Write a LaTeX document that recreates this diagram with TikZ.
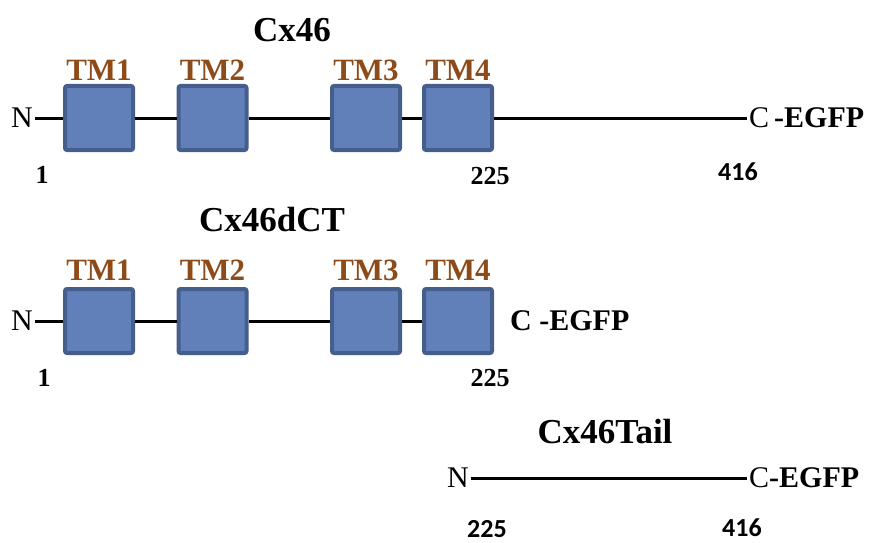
\documentclass[tikz,border=0pt]{standalone}
\usepackage{fontspec}
\setmainfont{Liberation Serif}
\newfontfamily\numsans{Carlito}
\definecolor{boxfill}{RGB}{97,128,186}
\definecolor{boxline}{RGB}{70,94,140}
\definecolor{tmbrown}{RGB}{140,75,25}
\begin{document}
\begin{tikzpicture}[x=1pt,y=-1pt,
  tmbox/.style={draw=boxline,fill=boxfill,line width=4pt,rounded corners=2pt,minimum width=68pt,minimum height=64pt,inner sep=0pt},
  tmlabel/.style={text=tmbrown,font=\fontsize{31}{31}\selectfont\bfseries,inner sep=0pt},
  title/.style={font=\fontsize{35}{35}\selectfont\bfseries,inner sep=0pt},
  term/.style={font=\fontsize{30}{30}\selectfont,inner sep=2pt},
  numser/.style={font=\fontsize{26}{26}\selectfont\bfseries,inner sep=0pt},
  numsan/.style={font=\fontsize{26}{26}\selectfont\numsans\bfseries,inner sep=0pt},
  chain/.style={line width=3pt}]
\useasboundingbox (0,0) rectangle (873,543);
% Row 1: Cx46
\node[title] (t1) at (292,30) {Cx46};
\node[tmbox] (a1) at (99,118) {};
\node[tmbox] (a2) at (212.5,118) {};
\node[tmbox] (a3) at (366,118) {};
\node[tmbox] (a4) at (458,118) {};
\node[tmlabel] (la1) at (99,70) {TM1};
\node[tmlabel] (la2) at (212.5,70) {TM2};
\node[tmlabel] (la3) at (366,70) {TM3};
\node[tmlabel] (la4) at (458,70) {TM4};
\node[term] (n1) at (22,118) {N};
\node[term,anchor=west] (c1) at (747,118) {C\,\textbf{-EGFP}};
\draw[chain] (n1.east) -- (a1.west);
\draw[chain] (a1.east) -- (a2.west);
\draw[chain] (a2.east) -- (a3.west);
\draw[chain] (a3.east) -- (a4.west);
\draw[chain] (a4.east) -- (c1.west);
\node[numser] (p11) at (42,175) {1};
\node[numser] (p12) at (490,176) {225};
\node[numsan] (p13) at (738,172) {416};
% Row 2: Cx46dCT
\node[title] (t2) at (272,220) {Cx46dCT};
\node[tmbox] (b1) at (99,321) {};
\node[tmbox] (b2) at (212.5,321) {};
\node[tmbox] (b3) at (366,321) {};
\node[tmbox] (b4) at (458,321) {};
\node[tmlabel] (lb1) at (99,270) {TM1};
\node[tmlabel] (lb2) at (212.5,270) {TM2};
\node[tmlabel] (lb3) at (366,270) {TM3};
\node[tmlabel] (lb4) at (458,270) {TM4};
\node[term] (n2) at (22,321) {N};
\node[term,anchor=west] (c2) at (508,321) {\textbf{C -EGFP}};
\draw[chain] (n2.east) -- (b1.west);
\draw[chain] (b1.east) -- (b2.west);
\draw[chain] (b2.east) -- (b3.west);
\draw[chain] (b3.east) -- (b4.west);
\node[numser] (p21) at (44,378) {1};
\node[numser] (p22) at (490,378) {225};
% Row 3: Cx46Tail
\node[title] (t3) at (605,432) {Cx46Tail};
\node[term] (n3) at (458,478) {N};
\node[term,anchor=west] (c3) at (747,478) {C\textbf{-EGFP}};
\draw[chain] (n3.east) -- (c3.west);
\node[numsan] (p31) at (487,529) {225};
\node[numsan] (p32) at (742,528) {416};
\end{tikzpicture}
\end{document}
